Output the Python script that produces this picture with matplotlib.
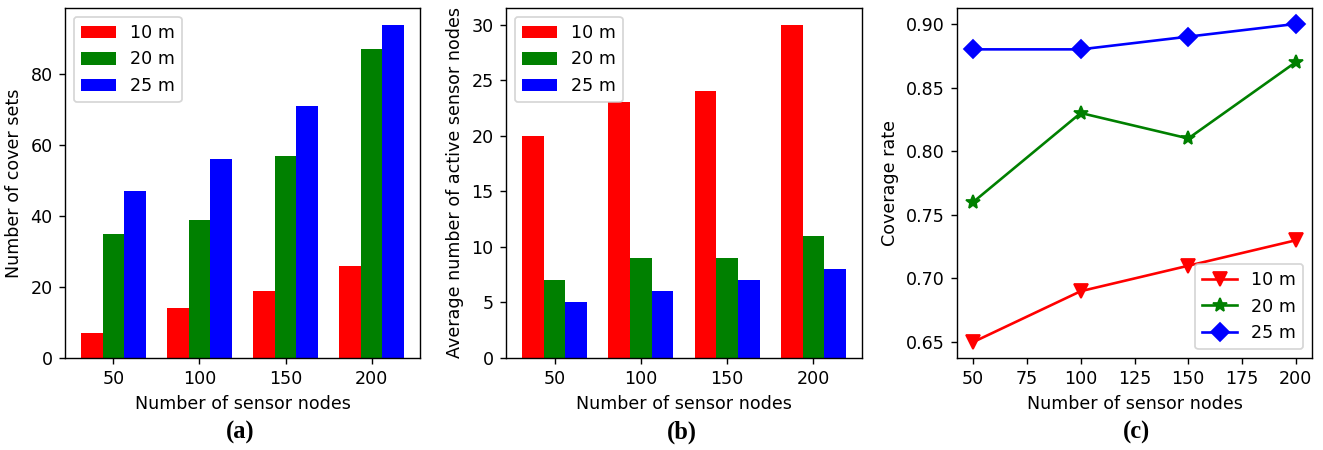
import numpy as np
import matplotlib
matplotlib.use('Agg')
import matplotlib.pyplot as plt

nodes = [50, 100, 150, 200]
ranges = ['10 m', '20 m', '25 m']
colors = ['red', 'green', 'blue']

# (a) number of cover sets
cover_10 = [7, 14, 19, 26]
cover_20 = [35, 39, 57, 87]
cover_25 = [47, 56, 71, 94]

# (b) average number of active sensor nodes
active_10 = [20, 23, 24, 30]
active_20 = [7, 9, 9, 11]
active_25 = [5, 6, 7, 8]

# (c) coverage rate
rate_10 = [0.65, 0.69, 0.71, 0.73]
rate_20 = [0.76, 0.83, 0.81, 0.87]
rate_25 = [0.88, 0.88, 0.89, 0.90]

dpi = 126
fig = plt.figure(figsize=(1323 / dpi, 450 / dpi), dpi=dpi)

W, H = 1323.0, 450.0
def box(l, r, t=8, b=358):
    return [l / W, 1 - b / H, (r - l) / W, (b - t) / H]

ax1 = fig.add_axes(box(65, 420))
ax2 = fig.add_axes(box(506, 862))
ax3 = fig.add_axes(box(957, 1312))

x = np.arange(len(nodes))
w = 0.25

for ax, series, ylab in [(ax1, [cover_10, cover_20, cover_25], 'Number of cover sets'),
                         (ax2, [active_10, active_20, active_25], 'Average number of active sensor nodes')]:
    for i, s in enumerate(series):
        ax.bar(x + (i - 1) * w, s, w, color=colors[i], label=ranges[i])
    ax.set_xticks(x)
    ax.set_xticklabels([str(n) for n in nodes])
    ax.set_xlabel('Number of sensor nodes')
    ax.set_ylabel(ylab)
    ax.legend(loc='upper left')

ax1.set_yticks([0, 20, 40, 60, 80])

markers = ['v', '*', 'D']
msizes = [8, 8, 7]
for i, s in enumerate([rate_10, rate_20, rate_25]):
    ax3.plot(nodes, s, color=colors[i], marker=markers[i], markersize=msizes[i],
             lw=1.5, label=ranges[i])
ax3.set_xticks([50, 75, 100, 125, 150, 175, 200])
ax3.set_xlabel('Number of sensor nodes')
ax3.set_ylabel('Coverage rate')
ax3.legend(loc='lower right')

for xc, t in [(240, '(a)'), (682, '(b)'), (1137, '(c)')]:
    fig.text(xc / W, 1 - 432 / H, t, ha='center', va='center',
             family='Liberation Serif', fontweight='bold', fontsize=14)

fig.savefig('out.png', dpi=dpi)
